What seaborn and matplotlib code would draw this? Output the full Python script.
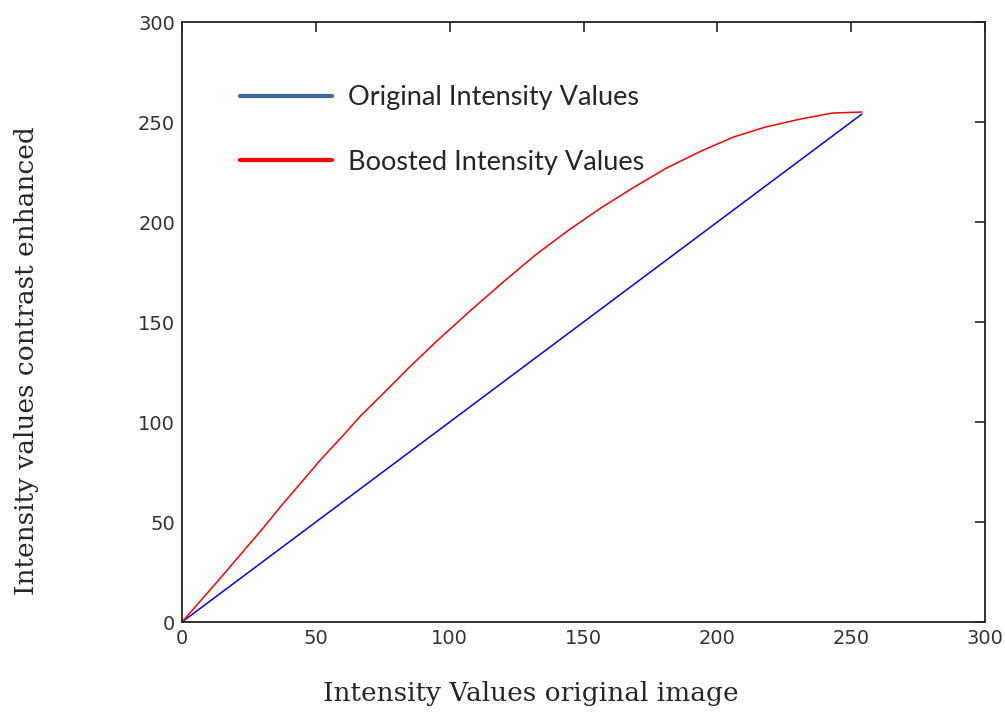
import matplotlib
matplotlib.use("Agg")
import matplotlib.pyplot as plt
from matplotlib.lines import Line2D
import seaborn as sns
import pandas as pd

# Intensity mapping: original input level vs. output level
original_x = [0, 50, 100, 150, 200, 254]
original_y = [0, 50, 100, 150, 200, 254]

boosted_x = [0, 7.5, 15, 22, 30, 37, 45, 52, 60, 67, 75, 85, 96, 108, 120,
             132, 145, 157, 169, 181, 194, 206, 218, 231, 243, 254]
boosted_y = [0, 11.5, 23, 34, 46.5, 58, 70.5, 81.5, 93, 103.5, 114, 127.5,
             141.5, 156, 170, 183.5, 196.5, 207.5, 217.5, 227, 235.5, 242.5,
             247.5, 251.5, 254.5, 255]

series_labels = ["Original Intensity Values", "Boosted Intensity Values"]
axis_ticks = [0, 50, 100, 150, 200, 250, 300]

sns.set_style("white")

df = pd.concat([
    pd.DataFrame({"x": original_x, "y": original_y, "series": series_labels[0]}),
    pd.DataFrame({"x": boosted_x, "y": boosted_y, "series": series_labels[1]}),
])

fig = plt.figure(figsize=(10.05, 7.13), dpi=100)
ax = fig.add_axes([0.1811, 0.1276, 0.7990, 0.8415])

sns.lineplot(data=df[df.series == series_labels[0]], x="x", y="y",
             color="#0000ff", linewidth=1.1, ax=ax, legend=False, sort=False)
sns.lineplot(data=df[df.series == series_labels[1]], x="x", y="y",
             color="#ff0000", linewidth=1.1, ax=ax, legend=False, sort=False)

ax.set_xlim(0, 300)
ax.set_ylim(0, 300)
ax.set_xticks(axis_ticks)
ax.set_yticks(axis_ticks)
ax.tick_params(direction="in", length=7, width=1.2, top=True, right=True,
               labelsize=14, labelcolor="#333333", color="#222222", pad=5)
for lab in ax.get_xticklabels() + ax.get_yticklabels():
    lab.set_family("DejaVu Sans")
for sp in ax.spines.values():
    sp.set_color("#222222")
    sp.set_linewidth(1.3)

ax.set_xlabel("")
ax.set_ylabel("")
fig.text(531 / 1005, 1 - 693 / 713, "Intensity Values original image",
         family="DejaVu Serif", fontsize=19, ha="center", va="center")
fig.text(27 / 1005, 1 - 361 / 713, "Intensity values contrast enhanced",
         family="DejaVu Serif", fontsize=19, ha="center", va="center",
         rotation=90)

# Legend drawn with thick proxy lines, no frame
handles = [Line2D([], [], color="#3f68a3", linewidth=3),
           Line2D([], [], color="#ff0000", linewidth=3)]
ax.legend(handles, series_labels, loc="upper left",
          bbox_to_anchor=(0.042, 0.935), frameon=False,
          handlelength=3.4, handletextpad=0.6, labelspacing=1.45,
          prop={"family": "Lato", "size": 19.5})

fig.savefig("out.png", dpi=100)
